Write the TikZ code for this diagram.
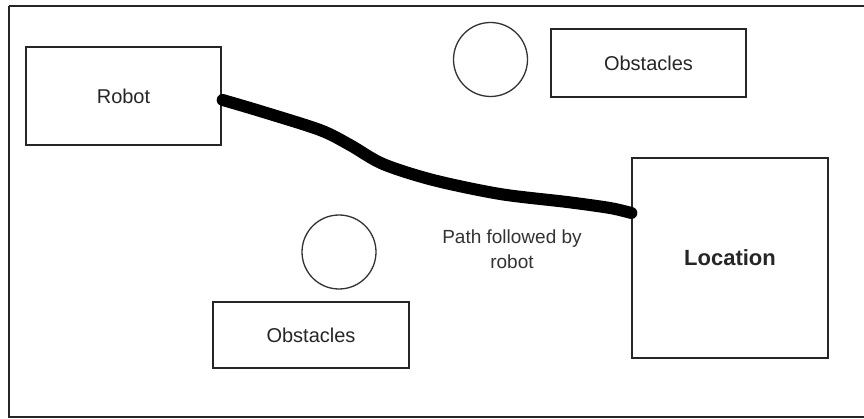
\documentclass[tikz,border=0pt]{standalone}
\usepackage{fontspec}
\setmainfont{Liberation Sans}
\usetikzlibrary{calc}
\begin{document}
\begin{tikzpicture}[x=1pt,y=-1pt,
  box/.style={draw=black!85, line width=1.3pt, rectangle, inner sep=0pt, text=black!85,
    font=\fontsize{20}{24}\selectfont},
  obst/.style={draw=black!80, line width=1.3pt, circle, inner sep=0pt, minimum size=74pt},
  lbl/.style={text=black!80, align=center, font=\fontsize{19}{25}\selectfont},
  route/.style={line width=12pt, black, line cap=round, line join=round}]
\useasboundingbox (0,0) rectangle (864,419);
\fill[white] (0,0) rectangle (864,419);
\draw[black!85, line width=1.6pt] (9,6) -- (880,6);
\draw[black!85, line width=1.6pt] (9,6) -- (9,417) -- (880,417);
\node[box, minimum width=195pt, minimum height=98pt] (robot) at (123.5,96) {Robot};
\node[box, minimum width=195pt, minimum height=68pt] (obsA) at (648.5,63) {Obstacles};
\node[box, minimum width=196pt, minimum height=66pt] (obsB) at (311,335) {Obstacles};
\node[box, minimum width=196pt, minimum height=200pt, font=\fontsize{22}{26}\selectfont\bfseries] (loc) at (730,258) {Location};
\node[obst] (c1) at (490.5,59.5) {};
\node[obst] (c2) at (339,252) {};
\node[lbl] (plabel) at (512,249.5) {Path followed by\\robot};
\coordinate (pstart) at ($(robot.east)+(1,4)$);
\coordinate (pend) at ($(loc.west)+(0,-45)$);
\draw[route] plot[smooth, tension=0.5] coordinates {(pstart) (260,111) (320,130) (350,145) (383,164) (433,180) (500,194) (567,202) (610,208) (pend)};
\end{tikzpicture}
\end{document}
